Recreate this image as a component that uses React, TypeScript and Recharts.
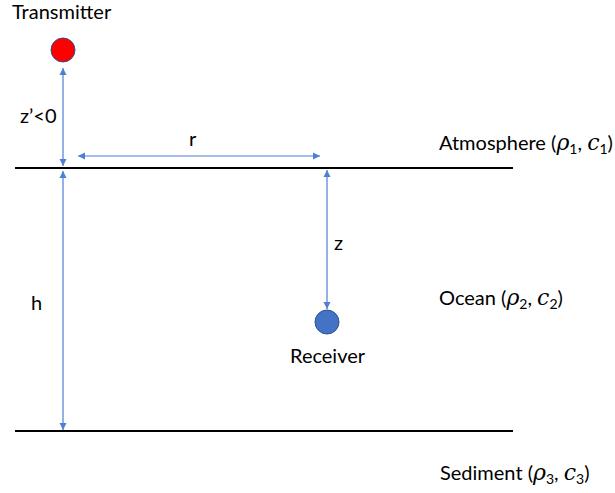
import React from "react";
import { ComposedChart, XAxis, YAxis, Scatter, ReferenceLine } from "recharts";

// diagram coordinates, y grows downward (axis reversed)
const boundaries = [
  { name: "surface", y: 168 },
  { name: "seabed", y: 431 },
];
const boundarySpan = [15, 513];

const arrows = [
  { name: "z'", x1: 63, y1: 68, x2: 63, y2: 166 },
  { name: "r", x1: 78, y1: 156, x2: 320, y2: 156 },
  { name: "h", x1: 63, y1: 171, x2: 63, y2: 430 },
  { name: "z", x1: 327, y1: 170, x2: 327, y2: 309 },
];

const nodes = [
  { name: "Transmitter", x: 63, y: 50, fill: "#ff0000" },
  { name: "Receiver", x: 327, y: 322, fill: "#4472c4" },
];

const labels = [
  { text: "Transmitter", x: 12, y: 19 },
  { text: "z\u2019<0", x: 20, y: 123 },
  { text: "r", x: 189, y: 146 },
  { text: "h", x: 31, y: 310 },
  { text: "z", x: 334, y: 250 },
  { text: "Receiver", x: 290, y: 363 },
];

const layers = [
  { name: "Atmosphere", idx: 1, x: 439, y: 150 },
  { name: "Ocean", idx: 2, x: 439, y: 305 },
  { name: "Sediment", idx: 3, x: 440, y: 480 },
];

const ARROW = "#4f7fd3";
const FONT = "Lato, 'Open Sans', sans-serif";
const MATH = "'DejaVu Serif', 'Liberation Serif', serif";

function head(x: number, y: number, dx: number, dy: number) {
  const len = Math.hypot(dx, dy) || 1;
  const ux = dx / len;
  const uy = dy / len;
  const L = 7;
  const W = 3.5;
  const bx = x - ux * L;
  const by = y - uy * L;
  return `${x},${y} ${bx - uy * W},${by + ux * W} ${bx + uy * W},${by - ux * W}`;
}

function ArrowShape(p: any) {
  const { x1, y1, x2, y2 } = p;
  return (
    <g>
      <line x1={x1} y1={y1} x2={x2} y2={y2} stroke={ARROW} strokeWidth={1.2} />
      <polygon points={head(x1, y1, x1 - x2, y1 - y2)} fill={ARROW} />
      <polygon points={head(x2, y2, x2 - x1, y2 - y1)} fill={ARROW} />
    </g>
  );
}

function NodeShape(p: any) {
  return <circle cx={p.cx} cy={p.cy} r={12} fill={p.payload.fill} stroke="#2f528f" strokeWidth={1} />;
}

function LabelShape(p: any) {
  return (
    <text x={p.cx} y={p.cy} fontFamily={FONT} fontSize={20} fill="#000">
      {p.payload.text}
    </text>
  );
}

function LayerShape(p: any) {
  const i = String(p.payload.idx);
  return (
    <text x={p.cx} y={p.cy} fontFamily={FONT} fontSize={20} fill="#000">
      {p.payload.name + " ("}
      <tspan fontFamily={MATH} fontStyle="italic" fontSize={22}>ρ</tspan>
      <tspan fontSize={14} dy={4}>{i}</tspan>
      <tspan dy={-4}>{", "}</tspan>
      <tspan fontFamily={MATH} fontStyle="italic" fontSize={22}>c</tspan>
      <tspan fontSize={14} dy={4}>{i}</tspan>
      <tspan dy={-4}>)</tspan>
    </text>
  );
}

export default function App() {
  return (
    <div style={{ position: "absolute", left: 0, top: 0, width: 615, height: 493, background: "#fff" }}>
      <ComposedChart width={615} height={493} margin={{ top: 0, right: 0, bottom: 0, left: 0 }}>
        <XAxis type="number" dataKey="x" domain={[0, 615]} hide />
        <YAxis type="number" dataKey="y" domain={[0, 493]} reversed hide />
        {boundaries.map((b) => (
          <ReferenceLine
            key={b.name}
            segment={[
              { x: boundarySpan[0], y: b.y },
              { x: boundarySpan[1], y: b.y },
            ]}
            stroke="#000"
            strokeWidth={2}
          />
        ))}
        {arrows.map((a) => (
          <ReferenceLine
            key={a.name}
            segment={[
              { x: a.x1, y: a.y1 },
              { x: a.x2, y: a.y2 },
            ]}
            shape={ArrowShape}
          />
        ))}
        <Scatter data={nodes} shape={NodeShape} isAnimationActive={false} />
        <Scatter data={labels} shape={LabelShape} isAnimationActive={false} />
        <Scatter data={layers} shape={LayerShape} isAnimationActive={false} />
      </ComposedChart>
    </div>
  );
}
